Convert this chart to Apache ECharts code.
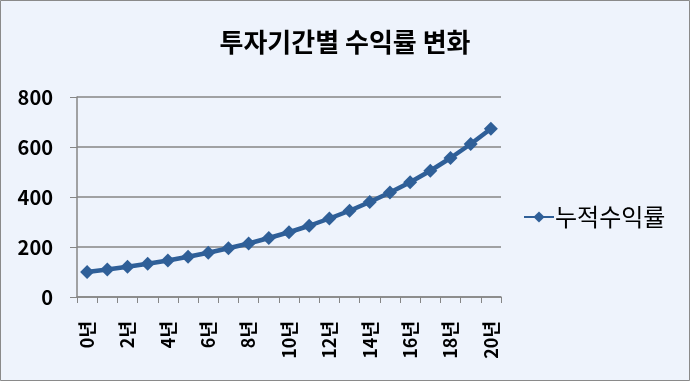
<!DOCTYPE html>
<html><head><meta charset="utf-8">
<script src="https://cdn.jsdelivr.net/npm/echarts@6/dist/echarts.min.js"></script>
<style>html,body{margin:0;padding:0;background:#EEF3FC;}#c{width:690px;height:381px;}</style>
</head><body><div id="c"></div>
<script>
const categories = ['0년','1년','2년','3년','4년','5년','6년','7년','8년','9년','10년','11년','12년','13년','14년','15년','16년','17년','18년','19년','20년'];
const seriesName = '누적수익률';
const values = [100,110,121,133,146,161,177,195,214,236,259,285,314,345,380,418,459,505,556,612,673];
const yTicks = [0,200,400,600,800];
const titleText = '투자기간별 수익률 변화';

const chart = echarts.init(document.getElementById('c'));
const font = '"Noto Sans CJK KR", "Noto Sans", sans-serif';
chart.setOption({
  backgroundColor: '#EEF3FC',
  animation: false,
  textStyle: {fontFamily: font},
  graphic: [{type:'rect', shape:{x:0.5,y:0.5,width:689,height:380}, style:{fill:'none', stroke:'#8a8a8a', lineWidth:1}, silent:true}],
  title: {text: titleText, left: 'center', top: 24, textStyle:{fontFamily: font, fontSize: 26, fontWeight:'bold', color:'#000'}},
  legend: {left: 518, top: 200, itemWidth: 30, itemHeight: 14, itemGap: 4,
    textStyle:{fontFamily: font, fontSize: 24, color:'#000', padding:[0,0,0,-4]}, data:[seriesName]},
  grid: {left: 77, right: 189, top: 97, bottom: 84},
  xAxis: {type:'category', data: categories, boundaryGap: true,
    axisLine:{lineStyle:{color:'#868686', width:1.5}},
    axisTick:{show:true, interval:0, length:6, lineStyle:{color:'#868686'}},
    axisLabel:{interval:1, rotate:90, margin:24, fontFamily: font, fontSize:18, fontWeight:'bold', color:'#000'}},
  yAxis: {type:'value', min: yTicks[0], max: yTicks[yTicks.length-1], interval: 200,
    axisLine:{show:true, lineStyle:{color:'#868686', width:1.5}},
    axisTick:{show:true, length:7, lineStyle:{color:'#868686'}},
    splitLine:{lineStyle:{color:'#868686', width:1.5}},
    axisLabel:{margin:24, fontFamily: font, fontSize:20, fontWeight:'bold', color:'#000'}},
  series: [{name: seriesName, type:'line', data: values, symbol:'diamond', symbolSize:14,
    showSymbol:true, showAllSymbol:true,
    lineStyle:{color:'#2F5F98', width:4.5}, itemStyle:{color:'#2F5F98'}}]
});
</script></body></html>
